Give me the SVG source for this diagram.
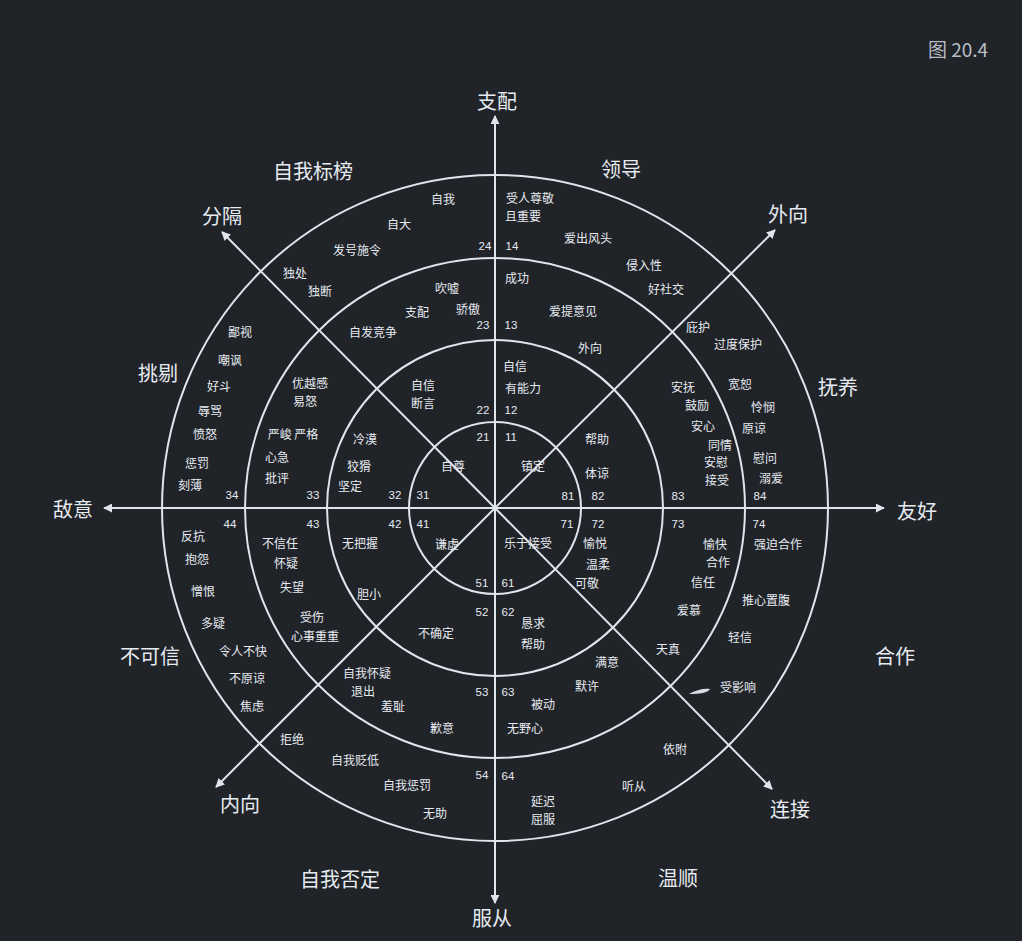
<svg xmlns="http://www.w3.org/2000/svg" width="1022" height="941" viewBox="0 0 1022 941">
<defs>
<style>
.bg{fill:#202328}
.ring{fill:none;stroke:#dfe5ec;stroke-width:2}
.ax{stroke:#dfe5ec;stroke-width:2;fill:none}
text{font-family:"Noto Sans CJK SC","Liberation Sans",sans-serif;fill:#e6ebf1;text-anchor:middle;dominant-baseline:central}
.s{font-size:12px}
.n{font-size:11.5px;font-family:"Liberation Sans","DejaVu Sans",sans-serif}
.b{font-size:20px}
.fig{font-size:19px;fill:#b8bec6}
</style>
<marker id="ah" viewBox="0 0 10 10" refX="9" refY="5" markerWidth="9" markerHeight="9" markerUnits="userSpaceOnUse" orient="auto">
<path d="M0,0 L10,5 L0,10 Z" fill="#dfe5ec"/>
</marker>
</defs>
<rect class="bg" width="1022" height="941"/>
<text class="fig" x="958" y="48">图 20.4</text>

<g id="rings">
<circle class="ring" cx="495" cy="508" r="86"/>
<circle class="ring" cx="495" cy="508" r="168"/>
<circle class="ring" cx="495" cy="508" r="250"/>
<circle class="ring" cx="495" cy="508" r="333"/>
</g>

<g id="connectors">
<line class="ax" x1="495" y1="508" x2="495" y2="116" marker-end="url(#ah)"/>
<line class="ax" x1="495" y1="508" x2="495" y2="903" marker-end="url(#ah)"/>
<line class="ax" x1="495" y1="508" x2="104" y2="508" marker-end="url(#ah)"/>
<line class="ax" x1="495" y1="508" x2="884" y2="508" marker-end="url(#ah)"/>
<line class="ax" x1="495" y1="508" x2="222" y2="232" marker-end="url(#ah)"/>
<line class="ax" x1="495" y1="508" x2="775" y2="230" marker-end="url(#ah)"/>
<line class="ax" x1="495" y1="508" x2="216" y2="787" marker-end="url(#ah)"/>
<line class="ax" x1="495" y1="508" x2="772" y2="789" marker-end="url(#ah)"/>
</g>

<g id="axis-labels">
<text class="b" x="497" y="100">支配</text>
<text class="b" x="492" y="917">服从</text>
<text class="b" x="73" y="508">敌意</text>
<text class="b" x="917" y="510">友好</text>
<text class="b" x="222" y="215">分隔</text>
<text class="b" x="788" y="213">外向</text>
<text class="b" x="240" y="803">内向</text>
<text class="b" x="790" y="808">连接</text>
</g>

<g id="octant-labels">
<text class="b" x="313" y="170">自我标榜</text>
<text class="b" x="621" y="168">领导</text>
<text class="b" x="158" y="372">挑剔</text>
<text class="b" x="838" y="386">抚养</text>
<text class="b" x="150" y="655">不可信</text>
<text class="b" x="895" y="655">合作</text>
<text class="b" x="340" y="878">自我否定</text>
<text class="b" x="678" y="877">温顺</text>
</g>

<g id="sector-1">
<text class="s" x="530" y="197">受人尊敬</text>
<text class="s" x="523" y="215">且重要</text>
<text class="s" x="588" y="237">爱出风头</text>
<text class="s" x="644" y="264">侵入性</text>
<text class="s" x="666" y="288">好社交</text>
<text class="s" x="517" y="277">成功</text>
<text class="s" x="573" y="310">爱提意见</text>
<text class="s" x="590" y="347">外向</text>
<text class="s" x="515" y="365">自信</text>
<text class="s" x="523" y="387">有能力</text>
<text class="s" x="533" y="465">镇定</text>
<text class="n" x="512" y="246">14</text>
<text class="n" x="511" y="325">13</text>
<text class="n" x="511" y="410">12</text>
<text class="n" x="511" y="437">11</text>
</g>

<g id="sector-2">
<text class="s" x="443" y="198">自我</text>
<text class="s" x="399" y="223">自大</text>
<text class="s" x="357" y="249">发号施令</text>
<text class="s" x="295" y="272">独处</text>
<text class="s" x="320" y="290">独断</text>
<text class="s" x="447" y="287">吹嘘</text>
<text class="s" x="468" y="308">骄傲</text>
<text class="s" x="417" y="311">支配</text>
<text class="s" x="373" y="331">自发竞争</text>
<text class="s" x="423" y="384">自信</text>
<text class="s" x="423" y="402">断言</text>
<text class="s" x="453" y="465">自尊</text>
<text class="n" x="485" y="246">24</text>
<text class="n" x="483" y="325">23</text>
<text class="n" x="483" y="410">22</text>
<text class="n" x="483" y="437">21</text>
</g>

<g id="sector-3">
<text class="s" x="240" y="331">鄙视</text>
<text class="s" x="230" y="359">嘲讽</text>
<text class="s" x="219" y="385">好斗</text>
<text class="s" x="210" y="410">辱骂</text>
<text class="s" x="205" y="433">愤怒</text>
<text class="s" x="197" y="462">惩罚</text>
<text class="s" x="190" y="484">刻薄</text>
<text class="s" x="310" y="382">优越感</text>
<text class="s" x="305" y="400">易怒</text>
<text class="s" x="293" y="433">严峻  严格</text>
<text class="s" x="277" y="456">心急</text>
<text class="s" x="277" y="477">批评</text>
<text class="s" x="365" y="438">冷漠</text>
<text class="s" x="359" y="465">狡猾</text>
<text class="s" x="350" y="485">坚定</text>
<text class="n" x="232" y="495">34</text>
<text class="n" x="313" y="495">33</text>
<text class="n" x="395" y="495">32</text>
<text class="n" x="423" y="495">31</text>
</g>

<g id="sector-4">
<text class="s" x="193" y="535">反抗</text>
<text class="s" x="197" y="558">抱怨</text>
<text class="s" x="203" y="590">憎恨</text>
<text class="s" x="213" y="622">多疑</text>
<text class="s" x="243" y="650">令人不快</text>
<text class="s" x="247" y="677">不原谅</text>
<text class="s" x="252" y="705">焦虑</text>
<text class="s" x="280" y="542">不信任</text>
<text class="s" x="286" y="562">怀疑</text>
<text class="s" x="292" y="586">失望</text>
<text class="s" x="312" y="616">受伤</text>
<text class="s" x="315" y="635">心事重重</text>
<text class="s" x="360" y="542">无把握</text>
<text class="s" x="369" y="593">胆小</text>
<text class="s" x="447" y="543">谦虚</text>
<text class="n" x="230" y="524">44</text>
<text class="n" x="313" y="524">43</text>
<text class="n" x="395" y="524">42</text>
<text class="n" x="423" y="524">41</text>
</g>

<g id="sector-5">
<text class="s" x="292" y="738">拒绝</text>
<text class="s" x="355" y="759">自我贬低</text>
<text class="s" x="407" y="784">自我惩罚</text>
<text class="s" x="435" y="812">无助</text>
<text class="s" x="367" y="672">自我怀疑</text>
<text class="s" x="363" y="690">退出</text>
<text class="s" x="393" y="705">羞耻</text>
<text class="s" x="442" y="727">歉意</text>
<text class="s" x="436" y="632">不确定</text>
<text class="n" x="482" y="583">51</text>
<text class="n" x="482" y="612">52</text>
<text class="n" x="482" y="692">53</text>
<text class="n" x="482" y="775">54</text>
</g>

<g id="sector-6">
<text class="s" x="543" y="800">延迟</text>
<text class="s" x="543" y="818">屈服</text>
<text class="s" x="634" y="785">听从</text>
<text class="s" x="675" y="748">依附</text>
<text class="s" x="543" y="703">被动</text>
<text class="s" x="525" y="727">无野心</text>
<text class="s" x="587" y="685">默许</text>
<text class="s" x="607" y="661">满意</text>
<text class="s" x="533" y="622">恳求</text>
<text class="s" x="533" y="643">帮助</text>
<text class="s" x="528" y="542">乐于接受</text>
<text class="n" x="508" y="583">61</text>
<text class="n" x="508" y="612">62</text>
<text class="n" x="508" y="692">63</text>
<text class="n" x="508" y="776">64</text>
</g>

<g id="sector-7">
<text class="s" x="778" y="543">强迫合作</text>
<text class="s" x="766" y="599">推心置腹</text>
<text class="s" x="740" y="636">轻信</text>
<text class="s" x="738" y="686">受影响</text>
<path d="M689,694 C696,690 704,688 710,689 C708,693 700,694 689,694 Z" fill="#d8dde4"/>
<text class="s" x="715" y="543">愉快</text>
<text class="s" x="718" y="561">合作</text>
<text class="s" x="703" y="581">信任</text>
<text class="s" x="689" y="609">爱慕</text>
<text class="s" x="668" y="648">天真</text>
<text class="s" x="595" y="542">愉悦</text>
<text class="s" x="598" y="563">温柔</text>
<text class="s" x="587" y="582">可敬</text>
<text class="n" x="567" y="524">71</text>
<text class="n" x="598" y="524">72</text>
<text class="n" x="678" y="524">73</text>
<text class="n" x="759" y="524">74</text>
</g>

<g id="sector-8">
<text class="s" x="698" y="326">庇护</text>
<text class="s" x="738" y="343">过度保护</text>
<text class="s" x="740" y="383">宽恕</text>
<text class="s" x="763" y="406">怜悯</text>
<text class="s" x="754" y="427">原谅</text>
<text class="s" x="765" y="457">慰问</text>
<text class="s" x="771" y="477">溺爱</text>
<text class="s" x="683" y="386">安抚</text>
<text class="s" x="697" y="404">鼓励</text>
<text class="s" x="703" y="425">安心</text>
<text class="s" x="720" y="444">同情</text>
<text class="s" x="716" y="461">安慰</text>
<text class="s" x="717" y="479">接受</text>
<text class="s" x="597" y="438">帮助</text>
<text class="s" x="597" y="472">体谅</text>
<text class="n" x="568" y="496">81</text>
<text class="n" x="598" y="496">82</text>
<text class="n" x="678" y="496">83</text>
<text class="n" x="760" y="496">84</text>
</g>
</svg>
